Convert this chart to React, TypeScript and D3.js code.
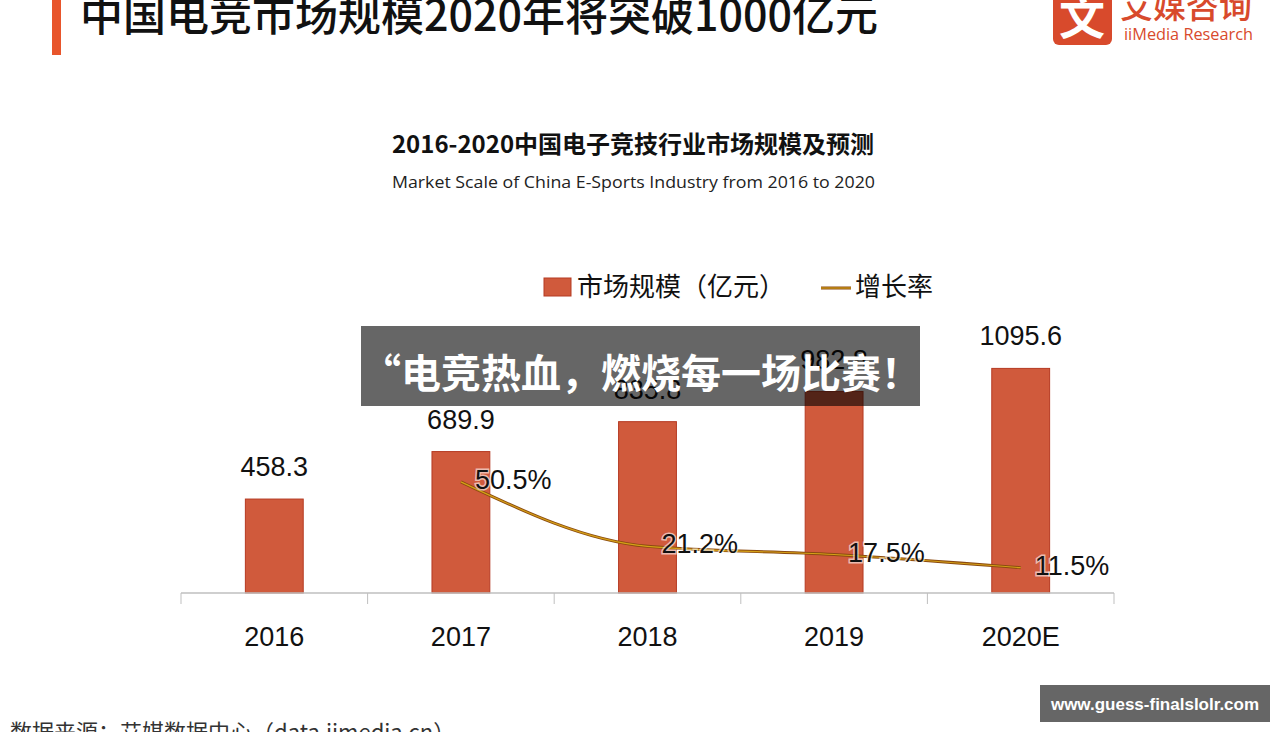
import React from "react";
import * as d3 from "d3";

const categories = ["2016", "2017", "2018", "2019", "2020E"];
const marketScale = [458.3, 689.9, 835.8, 982.8, 1095.6];
const growthYears = ["2017", "2018", "2019", "2020E"];
const growthRate = [50.5, 21.2, 17.5, 11.5];

const W = 1280;
const H = 732;
const CJK = "'Noto Sans CJK SC', 'Noto Sans', sans-serif";
const LAT = "'Liberation Sans', Arial, sans-serif";

export default function App() {
  const x = d3
    .scaleBand<string>()
    .domain(categories)
    .range([181, 1114])
    .paddingInner(0.69)
    .paddingOuter(0.345);
  const y = d3.scaleLinear().domain([0, 1200]).range([593, 347]);
  const yr = d3.scaleLinear().domain([0, 60]).range([593, 461]);
  const cx = (c: string) => (x(c) as number) + x.bandwidth() / 2;

  const lineGen = d3
    .line<number>()
    .x((_, i) => cx(growthYears[i]))
    .y((d) => yr(d))
    .curve(d3.curveMonotoneX);
  const linePath = lineGen(growthRate) || "";

  const step = x.step();
  const tickXs = d3.range(categories.length + 1).map((i) => 181 + i * step);

  return (
    <svg
      width={W}
      height={H}
      style={{ position: "absolute", left: 0, top: 0, background: "#fff" }}
    >
      {/* page title */}
      <rect x={52} y={0} width={9} height={55} fill="#e8552b" />
      <text x={80} y={31} fontFamily={CJK} fontSize={43} fontWeight={500} fill="#111">
        中国电竞市场规模2020年将突破1000亿元
      </text>

      {/* logo */}
      <rect x={1053} y={-8} width={59} height={53} rx={6} fill="#d84a2c" />
      <text x={1082} y={34} textAnchor="middle" fontFamily={CJK} fontSize={46} fontWeight={700} fill="#fff">
        文
      </text>
      <text x={1120} y={18} fontFamily={CJK} fontSize={33} fontWeight={500} fill="#d84a2c">
        艾媒咨询
      </text>
      <text x={1124} y={40} fontFamily="'Open Sans', sans-serif" fontSize={17} fill="#d84a2c" textLength={129} lengthAdjust="spacingAndGlyphs">
        iiMedia Research
      </text>

      {/* chart titles */}
      <text x={633} y={153} textAnchor="middle" fontFamily={CJK} fontSize={24} fontWeight={700} fill="#111">
        2016-2020中国电子竞技行业市场规模及预测
      </text>
      <text x={392} y={188} fontFamily="'Open Sans', sans-serif" fontSize={17} fill="#222" textLength={483} lengthAdjust="spacingAndGlyphs">
        Market Scale of China E-Sports Industry from 2016 to 2020
      </text>

      {/* legend */}
      <rect x={544} y={278} width={27} height={18} fill="#d05a3c" stroke="#b53a22" strokeWidth={1} />
      <text x={577} y={296} fontFamily={CJK} fontSize={26} fill="#111">
        市场规模（亿元）
      </text>
      <line x1={821} x2={851} y1={288} y2={288} stroke="#8b4a10" strokeWidth={3} />
      <line x1={821} x2={851} y1={288} y2={288} stroke="#d4a017" strokeWidth={1.2} />
      <text x={855} y={296} fontFamily={CJK} fontSize={26} fill="#111">
        增长率
      </text>

      {/* bars */}
      {categories.map((c, i) => (
        <rect
          key={c}
          x={x(c)}
          y={y(marketScale[i])}
          width={x.bandwidth()}
          height={y(0) - y(marketScale[i])}
          fill="#d05a3c"
          stroke="#b53a22"
          strokeWidth={1}
        />
      ))}

      {/* bar value labels */}
      {categories.map((c, i) => (
        <text
          key={"v" + c}
          x={cx(c)}
          y={y(marketScale[i]) - 23}
          textAnchor="middle"
          fontFamily={LAT}
          fontSize={27}
          fill="#111"
        >
          {marketScale[i].toFixed(1)}
        </text>
      ))}

      {/* axis */}
      <line x1={181} x2={1114} y1={593} y2={593} stroke="#bfbfbf" strokeWidth={1.5} />
      {tickXs.map((tx, i) => (
        <line key={"t" + i} x1={tx} x2={tx} y1={593} y2={604} stroke="#bfbfbf" strokeWidth={1} />
      ))}
      {categories.map((c) => (
        <text key={"c" + c} x={cx(c)} y={646} textAnchor="middle" fontFamily={LAT} fontSize={27} fill="#111">
          {c}
        </text>
      ))}

      {/* growth line */}
      <path d={linePath} fill="none" stroke="#8b4a10" strokeWidth={3} />
      <path d={linePath} fill="none" stroke="#d4a017" strokeWidth={1.2} />
      {growthYears.map((c, i) => (
        <text
          key={"g" + c}
          x={cx(c) + 14}
          y={yr(growthRate[i])}
          dominantBaseline="middle"
          fontFamily={LAT}
          fontSize={27}
          fill="#111"
          stroke="#fff"
          strokeWidth={3}
          strokeOpacity={0.6}
          paintOrder="stroke"
        >
          {growthRate[i].toFixed(1) + "%"}
        </text>
      ))}

      {/* source */}
      <text x={10} y={740} fontFamily={CJK} fontSize={22} fill="#333">
        数据来源：艾媒数据中心（data.iimedia.cn）
      </text>

      {/* overlay banner */}
      <rect x={361} y={326} width={559} height={80} fill="#000" fillOpacity={0.6} />
      <text x={361} y={388} fontFamily={CJK} fontSize={40} fontWeight={700} fill="#fff">
        “电竞热血，燃烧每一场比赛！
      </text>

      {/* watermark */}
      <rect x={1040} y={685} width={230} height={37} fill="#666" />
      <text x={1155} y={710} textAnchor="middle" fontFamily={LAT} fontSize={17} fontWeight={700} fill="#fff">
        www.guess-finalslolr.com
      </text>
    </svg>
  );
}
